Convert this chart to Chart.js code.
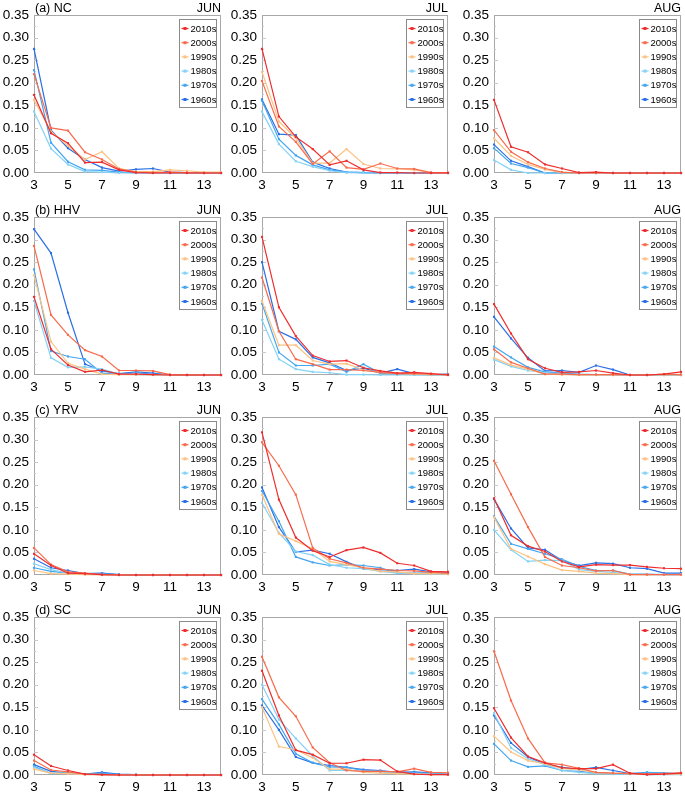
<html>
<head>
<meta charset="utf-8">
<title>Decadal frequency</title>
<script src="https://cdn.jsdelivr.net/npm/chart.js@4.4.1/dist/chart.umd.min.js"></script>
<style>
body { margin: 0; background: #fff; }
#wrap { position: relative; width: 685px; height: 795px; }
.panel { position: absolute; }
</style>
</head>
<body>
<div id="wrap"></div>

<script type="text/javascript">
var xLabels = [3, 4, 5, 6, 7, 8, 9, 10, 11, 12, 13, 14];
var decades = ['2010s', '2000s', '1990s', '1980s', '1970s', '1960s'];
var decadeColors = ['#ee2e2e', '#f86b4c', '#fcc282', '#84d2f6', '#44a6f0', '#2a6fe6'];
var regions = ['(a) NC', '(b) HHV', '(c) YRV', '(d) SC'];
var months = ['JUN', 'JUL', 'AUG'];

// one row per decade, in the order of decades[]
var NC_JUN = [
    [0.173, 0.088, 0.066, 0.023, 0.024, 0.007, 0.001, 0, 0, 0, 0, 0],
    [0.219, 0.100, 0.094, 0.046, 0.030, 0.009, 0.002, 0.001, 0.002, 0.001, 0, 0],
    [0.162, 0.092, 0.060, 0.030, 0.047, 0.010, 0.003, 0.003, 0.007, 0.005, 0.002, 0.002],
    [0.136, 0.054, 0.019, 0.003, 0.002, 0, 0, 0, 0, 0, 0, 0],
    [0.228, 0.067, 0.025, 0.007, 0.006, 0.002, 0, 0, 0, 0, 0, 0],
    [0.275, 0.095, 0.055, 0.030, 0.012, 0.004, 0.008, 0.010, 0.002, 0.001, 0, 0]
];
var NC_JUL = [
    [0.275, 0.125, 0.080, 0.053, 0.018, 0.027, 0.007, 0.001, 0.001, 0, 0, 0],
    [0.204, 0.103, 0.069, 0.020, 0.048, 0.012, 0.008, 0.021, 0.010, 0.009, 0.001, 0.001],
    [0.224, 0.114, 0.077, 0.022, 0.022, 0.053, 0.020, 0.010, 0.009, 0.007, 0.001, 0],
    [0.136, 0.064, 0.026, 0.014, 0.005, 0.001, 0, 0, 0, 0, 0, 0],
    [0.160, 0.075, 0.039, 0.018, 0.007, 0.002, 0.001, 0, 0, 0, 0, 0],
    [0.163, 0.086, 0.084, 0.024, 0.010, 0.002, 0.001, 0, 0, 0, 0, 0]
];
var NC_AUG = [
    [0.162, 0.058, 0.046, 0.019, 0.010, 0.001, 0.002, 0, 0, 0, 0, 0],
    [0.095, 0.047, 0.024, 0.010, 0.002, 0, 0, 0, 0, 0, 0, 0],
    [0.077, 0.038, 0.019, 0.008, 0.001, 0, 0, 0, 0, 0, 0, 0],
    [0.029, 0.007, 0, 0, 0, 0, 0, 0, 0, 0, 0, 0],
    [0.055, 0.021, 0.012, 0, 0, 0, 0, 0, 0, 0, 0, 0],
    [0.063, 0.027, 0.014, 0, 0, 0, 0, 0, 0, 0, 0, 0]
];

var HHV_JUN = [
    [0.173, 0.057, 0.022, 0.007, 0.011, 0.002, 0.002, 0.001, 0, 0, 0, 0],
    [0.286, 0.133, 0.089, 0.055, 0.041, 0.010, 0.010, 0.009, 0.001, 0, 0, 0],
    [0.221, 0.074, 0.026, 0.013, 0.002, 0.001, 0.001, 0, 0, 0, 0, 0],
    [0.164, 0.038, 0.017, 0.018, 0.013, 0.002, 0.001, 0, 0, 0, 0, 0],
    [0.234, 0.053, 0.041, 0.035, 0.004, 0.002, 0.005, 0.002, 0, 0, 0, 0],
    [0.323, 0.270, 0.138, 0.024, 0.009, 0.003, 0.007, 0.004, 0, 0, 0, 0]
];
var HHV_JUL = [
    [0.306, 0.150, 0.086, 0.043, 0.030, 0.032, 0.016, 0.009, 0.004, 0.006, 0.003, 0],
    [0.216, 0.097, 0.035, 0.024, 0.012, 0.012, 0.010, 0.006, 0.003, 0.003, 0.002, 0.001],
    [0.164, 0.066, 0.066, 0.032, 0.024, 0.025, 0.011, 0.006, 0.003, 0.002, 0.001, 0],
    [0.122, 0.035, 0.013, 0.007, 0.005, 0.001, 0.001, 0, 0, 0, 0, 0],
    [0.158, 0.050, 0.021, 0.021, 0.024, 0.007, 0.024, 0.004, 0.002, 0.001, 0, 0],
    [0.250, 0.097, 0.079, 0.039, 0.027, 0.010, 0.015, 0.004, 0.013, 0.003, 0.001, 0.002]
];
var HHV_AUG = [
    [0.157, 0.092, 0.035, 0.015, 0.006, 0.007, 0.010, 0.004, 0, 0, 0.002, 0.007],
    [0.057, 0.028, 0.015, 0.002, 0.002, 0.001, 0.001, 0.001, 0, 0, 0.002, 0.001],
    [0.038, 0.022, 0.013, 0.002, 0.001, 0, 0, 0, 0, 0, 0, 0],
    [0.034, 0.019, 0.010, 0.005, 0.002, 0, 0, 0, 0, 0, 0, 0],
    [0.063, 0.039, 0.017, 0.007, 0.004, 0.002, 0.001, 0, 0, 0, 0, 0],
    [0.129, 0.081, 0.038, 0.009, 0.010, 0.006, 0.021, 0.012, 0, 0, 0, 0]
];

var YRV_JUN = [
    [0.047, 0.021, 0.004, 0.003, 0.001, 0, 0, 0, 0, 0, 0, 0],
    [0.060, 0.023, 0.007, 0.004, 0.001, 0, 0, 0, 0, 0, 0, 0],
    [0.010, 0.003, 0.002, 0.001, 0, 0, 0, 0, 0, 0, 0, 0],
    [0.025, 0.012, 0.004, 0.002, 0.001, 0, 0, 0, 0, 0, 0, 0],
    [0.016, 0.008, 0.004, 0.002, 0.003, 0.001, 0, 0, 0, 0, 0, 0],
    [0.036, 0.016, 0.010, 0.003, 0.004, 0.001, 0, 0, 0, 0, 0, 0]
];
var YRV_JUL = [
    [0.316, 0.167, 0.083, 0.054, 0.040, 0.055, 0.061, 0.049, 0.026, 0.021, 0.008, 0.007],
    [0.294, 0.242, 0.178, 0.060, 0.036, 0.027, 0.016, 0.013, 0.010, 0.009, 0.006, 0.004],
    [0.178, 0.091, 0.075, 0.058, 0.030, 0.023, 0.016, 0.008, 0.007, 0.003, 0.003, 0.002],
    [0.160, 0.093, 0.052, 0.044, 0.023, 0.016, 0.014, 0.008, 0.004, 0.003, 0.002, 0.002],
    [0.186, 0.119, 0.040, 0.028, 0.021, 0.023, 0.021, 0.016, 0.004, 0.004, 0.005, 0.005],
    [0.194, 0.106, 0.051, 0.055, 0.047, 0.029, 0.014, 0.012, 0.010, 0.013, 0.007, 0.004]
];
var YRV_AUG = [
    [0.170, 0.088, 0.064, 0.052, 0.030, 0.018, 0.023, 0.022, 0.022, 0.018, 0.015, 0.014],
    [0.253, 0.179, 0.106, 0.040, 0.021, 0.016, 0.009, 0.010, 0.001, 0.001, 0.001, 0.001],
    [0.128, 0.058, 0.041, 0.024, 0.011, 0.008, 0.004, 0.003, 0.001, 0.001, 0.001, 0.001],
    [0.100, 0.056, 0.030, 0.033, 0.032, 0.012, 0.008, 0.006, 0.002, 0.001, 0.001, 0.001],
    [0.130, 0.069, 0.058, 0.047, 0.035, 0.019, 0.010, 0.010, 0.002, 0.002, 0.001, 0.001],
    [0.168, 0.103, 0.060, 0.056, 0.032, 0.021, 0.027, 0.025, 0.016, 0.014, 0.004, 0.004]
];

var SC_JUN = [
    [0.045, 0.020, 0.010, 0.002, 0.001, 0, 0, 0, 0, 0, 0, 0],
    [0.032, 0.011, 0.007, 0.002, 0.001, 0, 0, 0, 0, 0, 0, 0],
    [0.013, 0.004, 0.003, 0.001, 0, 0, 0, 0, 0, 0, 0, 0],
    [0.017, 0.004, 0.004, 0.002, 0.001, 0, 0, 0, 0, 0, 0, 0],
    [0.019, 0.003, 0.004, 0.002, 0.004, 0.001, 0, 0, 0, 0, 0, 0],
    [0.023, 0.008, 0.004, 0.002, 0.006, 0.002, 0.001, 0, 0, 0, 0, 0]
];
var SC_JUL = [
    [0.231, 0.132, 0.055, 0.045, 0.026, 0.026, 0.034, 0.033, 0.008, 0.002, 0.001, 0.001],
    [0.262, 0.172, 0.130, 0.061, 0.027, 0.010, 0.008, 0.008, 0.007, 0.014, 0.006, 0.005],
    [0.150, 0.063, 0.056, 0.038, 0.013, 0.013, 0.006, 0.004, 0.003, 0.002, 0.001, 0.001],
    [0.200, 0.123, 0.081, 0.042, 0.010, 0.011, 0.008, 0.007, 0.004, 0.003, 0.002, 0.001],
    [0.168, 0.112, 0.047, 0.027, 0.018, 0.017, 0.010, 0.008, 0.007, 0.005, 0.004, 0.002],
    [0.154, 0.100, 0.040, 0.027, 0.021, 0.017, 0.012, 0.010, 0.006, 0.007, 0.005, 0.001]
];
var SC_AUG = [
    [0.148, 0.083, 0.041, 0.027, 0.016, 0.014, 0.014, 0.023, 0.004, 0.001, 0.002, 0.004],
    [0.274, 0.165, 0.081, 0.027, 0.023, 0.015, 0.006, 0.004, 0.003, 0.002, 0.003, 0.005],
    [0.086, 0.051, 0.032, 0.025, 0.014, 0.012, 0.005, 0.004, 0.003, 0.002, 0.002, 0.002],
    [0.137, 0.060, 0.036, 0.023, 0.010, 0.006, 0.003, 0.002, 0.002, 0.001, 0.001, 0.001],
    [0.069, 0.032, 0.018, 0.020, 0.010, 0.008, 0.004, 0.003, 0.003, 0.006, 0.004, 0.002],
    [0.132, 0.071, 0.040, 0.024, 0.017, 0.012, 0.017, 0.010, 0.003, 0.004, 0.004, 0.003]
];

var panelData = [
    [NC_JUN, NC_JUL, NC_AUG],
    [HHV_JUN, HHV_JUL, HHV_AUG],
    [YRV_JUN, YRV_JUL, YRV_AUG],
    [SC_JUN, SC_JUL, SC_AUG]
];

// plot area positions on the page
var colLeft = [34, 262, 494];
var colRight = [223, 450, 683];
var rowTop = [15, 217, 417, 617];
var plotH = 158;
var axisW = 34, padTop = 15, padRight = 2, axisH = 20;

Chart.defaults.font.family = '"Liberation Sans", Arial, Helvetica, sans-serif';
Chart.defaults.color = '#000';

// box round the plot and inward ticks (under the lines), titles and legend (on top)
var framePlugin = {
    id: 'frame',
    beforeDatasetsDraw: function(chart) {
        var ctx = chart.ctx, a = chart.chartArea;
        var ys = chart.scales.y;
        ctx.save();
        ctx.strokeStyle = '#a8a8a8';
        ctx.lineWidth = 1;
        ctx.strokeRect(a.left + 0.5, a.top + 0.5, a.right - a.left - 1, a.bottom - a.top - 1);

        ctx.strokeStyle = '#c8c8c8';
        ctx.beginPath();
        for (var k = 1; k < 14; k++) {
            var py = Math.round(ys.getPixelForValue(k * 0.025)) + 0.5;
            var len = (k % 2 == 0) ? 4 : 2;
            ctx.moveTo(a.left, py); ctx.lineTo(a.left + len, py);
        }
        ctx.stroke();
        ctx.restore();
    },
    afterDraw: function(chart) {
        var ctx = chart.ctx, a = chart.chartArea;
        var o = chart.options.plugins.frame;
        ctx.save();

        // titles
        ctx.fillStyle = '#000';
        ctx.font = '12.5px "Liberation Sans", Arial, sans-serif';
        ctx.textBaseline = 'alphabetic';
        if (o.region) {
            ctx.textAlign = 'left';
            ctx.fillText(o.region, a.left + 1, a.top - 3);
        }
        ctx.textAlign = 'right';
        ctx.fillText(o.month, a.right, a.top - 3);

        // legend
        var bw = 37, bh = 88;
        var bx = a.right - 41.5, by = a.top + 4.5;
        ctx.fillStyle = '#fff';
        ctx.fillRect(bx, by, bw, bh);
        ctx.strokeStyle = '#8a8a8a';
        ctx.lineWidth = 1;
        ctx.strokeRect(bx, by, bw, bh);
        ctx.font = '9.5px "Liberation Sans", Arial, sans-serif';
        ctx.textBaseline = 'middle';
        ctx.textAlign = 'left';
        chart.data.datasets.forEach(function(ds, i) {
            var cy = by + 9 + i * 14.2;
            ctx.strokeStyle = ds.borderColor;
            ctx.lineWidth = 1.2;
            ctx.beginPath();
            ctx.moveTo(bx + 2, cy); ctx.lineTo(bx + 9, cy);
            ctx.stroke();
            ctx.fillStyle = ds.borderColor;
            ctx.fillRect(bx + 4, cy - 1.5, 3, 3);
            ctx.fillStyle = '#000';
            ctx.fillText(ds.label, bx + 11, cy + 0.5);
        });
        ctx.restore();
    }
};

var wrap = document.getElementById('wrap');

for (var r = 0; r < 4; r++) {
    for (var c = 0; c < 3; c++) {
        var w = colRight[c] - colLeft[c] + axisW + padRight;
        var h = padTop + plotH + axisH;
        var div = document.createElement('div');
        div.className = 'panel';
        div.style.left = (colLeft[c] - axisW) + 'px';
        div.style.top = (rowTop[r] - padTop) + 'px';
        div.style.width = w + 'px';
        div.style.height = h + 'px';
        var cv = document.createElement('canvas');
        cv.width = w; cv.height = h;
        div.appendChild(cv);
        wrap.appendChild(div);

        var rows = panelData[r][c];
        var datasets = decades.map(function(d, i) {
            return {
                label: d,
                data: rows[i],
                borderColor: decadeColors[i],
                backgroundColor: decadeColors[i],
                borderWidth: 1.2,
                pointStyle: 'rect',
                pointRadius: 1.5,
                pointBorderWidth: 0,
                tension: 0,
                clip: 3
            };
        });

        new Chart(cv, {
            type: 'line',
            data: { labels: xLabels, datasets: datasets },
            plugins: [framePlugin],
            options: {
                responsive: false,
                animation: false,
                layout: { padding: { top: padTop, right: padRight, left: 0, bottom: 0 } },
                plugins: {
                    legend: { display: false },
                    tooltip: { enabled: false },
                    frame: { region: c == 0 ? regions[r] : '', month: months[c] }
                },
                scales: {
                    x: {
                        offset: false,
                        grid: { display: false, drawTicks: false },
                        border: { display: false },
                        ticks: {
                            autoSkip: false, maxRotation: 0, padding: 4,
                            font: { size: 13.5 },
                            callback: function(v, i) { return i % 2 == 0 ? this.getLabelForValue(v) : ''; }
                        },
                        afterFit: function(s) { s.height = axisH; }
                    },
                    y: {
                        min: 0, max: 0.35,
                        grid: { display: false, drawTicks: false },
                        border: { display: false },
                        ticks: {
                            stepSize: 0.05, padding: 5,
                            font: { size: 13.5 },
                            callback: function(v) { return v.toFixed(2); }
                        },
                        afterFit: function(s) { s.width = axisW; }
                    }
                }
            }
        });
    }
}
</script>
</body>
</html>
